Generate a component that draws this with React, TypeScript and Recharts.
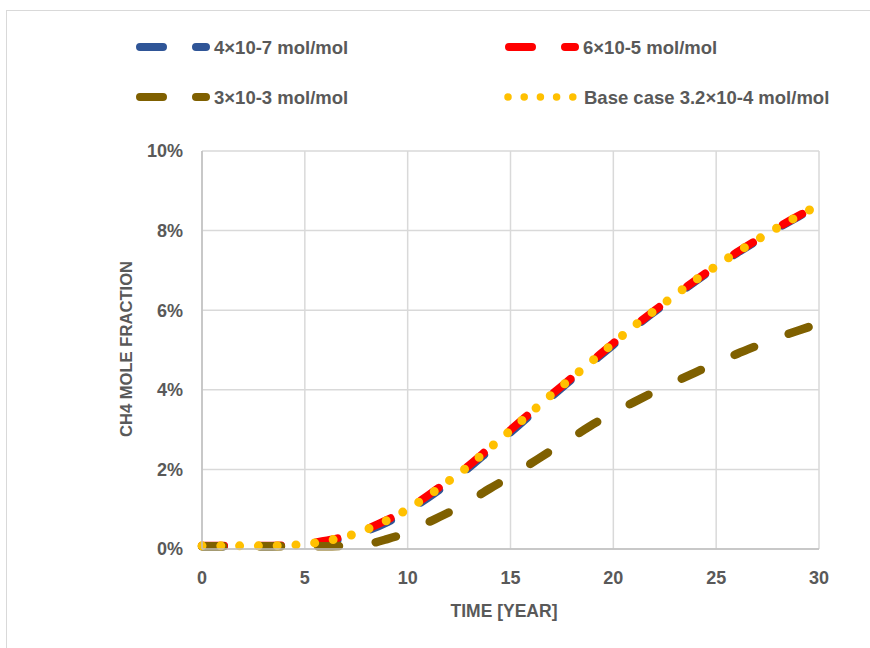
import React from 'react';
import { LineChart, Line, XAxis, YAxis, CartesianGrid, Label } from 'recharts';

const years = [0, 1, 2, 3, 4, 5, 6, 7, 8, 9, 10, 11, 12, 13, 14, 15, 16, 17, 18, 19, 20, 21, 22, 23, 24, 25, 26, 27, 28, 29, 30];
const case4e7 = [0.07, 0.07, 0.07, 0.07, 0.08, 0.11, 0.18, 0.28, 0.45, 0.67, 0.95, 1.29, 1.66, 2.05, 2.49, 2.93, 3.38, 3.83, 4.27, 4.7, 5.13, 5.56, 5.96, 6.35, 6.73, 7.09, 7.43, 7.75, 8.06, 8.35, 8.63];
const case6e5 = [0.08, 0.08, 0.08, 0.08, 0.09, 0.12, 0.21, 0.32, 0.5, 0.73, 1.01, 1.35, 1.72, 2.11, 2.55, 2.99, 3.44, 3.88, 4.31, 4.74, 5.17, 5.59, 5.99, 6.38, 6.75, 7.11, 7.45, 7.77, 8.08, 8.37, 8.64];
const case3e3 = [0.07, 0.07, 0.07, 0.07, 0.07, 0.07, 0.07, 0.08, 0.12, 0.25, 0.42, 0.67, 0.92, 1.2, 1.52, 1.82, 2.15, 2.48, 2.8, 3.13, 3.42, 3.69, 3.95, 4.2, 4.44, 4.67, 4.9, 5.11, 5.31, 5.49, 5.66];
const baseCase = [0.08, 0.08, 0.08, 0.08, 0.09, 0.12, 0.2, 0.31, 0.49, 0.72, 1.0, 1.34, 1.71, 2.1, 2.54, 2.98, 3.43, 3.88, 4.31, 4.74, 5.17, 5.6, 5.99, 6.38, 6.76, 7.11, 7.45, 7.77, 8.08, 8.37, 8.64];

const xTicks = [0, 5, 10, 15, 20, 25, 30];
const yTicks = [0, 2, 4, 6, 8, 10];

const seriesNames = ['4×10-7 mol/mol', '6×10-5 mol/mol', '3×10-3 mol/mol', 'Base case 3.2×10-4 mol/mol'];
const seriesKeys = ['a', 'b', 'c', 'd'];
const seriesColors = ['#2F5597', '#FF0000', '#7F6000', '#FFC000'];

const data = years.map((t, i) => ({
  t,
  a: case4e7[i],
  b: case6e5[i],
  c: case3e3[i],
  d: baseCase[i],
}));

const FONT = '"Liberation Sans", Arial, sans-serif';
const TEXT = '#595959';

const legendItems = [
  { i: 0, x: 136, y: 47 },
  { i: 1, x: 505, y: 47 },
  { i: 2, x: 136, y: 97 },
  { i: 3, x: 505, y: 97 },
];

function LegendSvg() {
  return (
    <svg width={870} height={130} style={{ position: 'absolute', left: 0, top: 0 }}>
      {legendItems.map(({ i, x, y }) => {
        const dotted = i === 3;
        return (
          <g key={i}>
            {dotted ? (
              <line x1={x + 3} x2={x + 68} y1={y} y2={y} stroke={seriesColors[i]} strokeWidth={7.5}
                strokeLinecap="round" strokeDasharray="0 16.2" />
            ) : (
              <line x1={x + 4} x2={x + 70} y1={y} y2={y} stroke={seriesColors[i]} strokeWidth={8}
                strokeLinecap="round" strokeDasharray="23 33" />
            )}
            <text x={dotted ? x + 79 : x + 78} y={y} dominantBaseline="central" fill={TEXT}
              fontFamily={FONT} fontWeight="bold" fontSize={18.5}>
              {seriesNames[i]}
            </text>
          </g>
        );
      })}
    </svg>
  );
}

export default function App() {
  return (
    <div style={{ position: 'absolute', left: 0, top: 0, width: 870, height: 648, overflow: 'hidden', background: '#fff' }}>
      <div style={{ position: 'absolute', left: 6, top: 10, width: 900, height: 700, border: '1px solid #d9d9d9' }} />
      <div style={{ position: 'absolute', left: 0, top: 0 }}>
        <LineChart width={870} height={648} data={data} margin={{ top: 151, right: 51, bottom: 59, left: 142 }}>
          <CartesianGrid stroke="#d9d9d9" strokeWidth={1.5} />
          <XAxis dataKey="t" type="number" domain={[0, 30]} ticks={xTicks} height={40}
            axisLine={{ stroke: '#bfbfbf', strokeWidth: 1.5 }} tickLine={false} tickSize={0} tickMargin={22}
            tick={{ fill: TEXT, fontFamily: FONT, fontWeight: 'bold', fontSize: 18 }}>
            <Label content={(p: any) => {
              const vb = p.viewBox;
              return (
                <text x={504} y={611} textAnchor="middle" dominantBaseline="central" fill={TEXT}
                  fontFamily={FONT} fontWeight="bold" fontSize={17.5}>TIME [YEAR]</text>
              );
            }} />
          </XAxis>
          <YAxis type="number" domain={[0, 10]} ticks={yTicks} width={60} interval={0}
            tickFormatter={(v: number) => `${v}%`}
            axisLine={{ stroke: '#bfbfbf', strokeWidth: 1.5 }} tickLine={false} tickSize={0} tickMargin={19}
            tick={{ fill: TEXT, fontFamily: FONT, fontWeight: 'bold', fontSize: 18 }}>
            <Label content={() => (
              <text x={126} y={349} textAnchor="middle" dominantBaseline="central" fill={TEXT}
                transform="rotate(-90 126 349)"
                fontFamily={FONT} fontWeight="bold" fontSize={16.6}>CH4 MOLE FRACTION</text>
            )} />
          </YAxis>
          <Line dataKey="a" name={seriesNames[0]} type="monotone" stroke={seriesColors[0]} strokeWidth={8}
            strokeLinecap="round" strokeDasharray="22 35" dot={false} activeDot={false} isAnimationActive={false} />
          <Line dataKey="b" name={seriesNames[1]} type="monotone" stroke={seriesColors[1]} strokeWidth={8}
            strokeLinecap="round" strokeDasharray="22 35" dot={false} activeDot={false} isAnimationActive={false} />
          <Line dataKey="c" name={seriesNames[2]} type="monotone" stroke={seriesColors[2]} strokeWidth={8.5}
            strokeLinecap="round" strokeDasharray="21 37" dot={false} activeDot={false} isAnimationActive={false} />
          <Line dataKey="d" name={seriesNames[3]} type="monotone" stroke={seriesColors[3]} strokeWidth={9}
            strokeLinecap="round" strokeDasharray="0 18.8" dot={false} activeDot={false} isAnimationActive={false} />
        </LineChart>
      </div>
      <LegendSvg />
    </div>
  );
}
